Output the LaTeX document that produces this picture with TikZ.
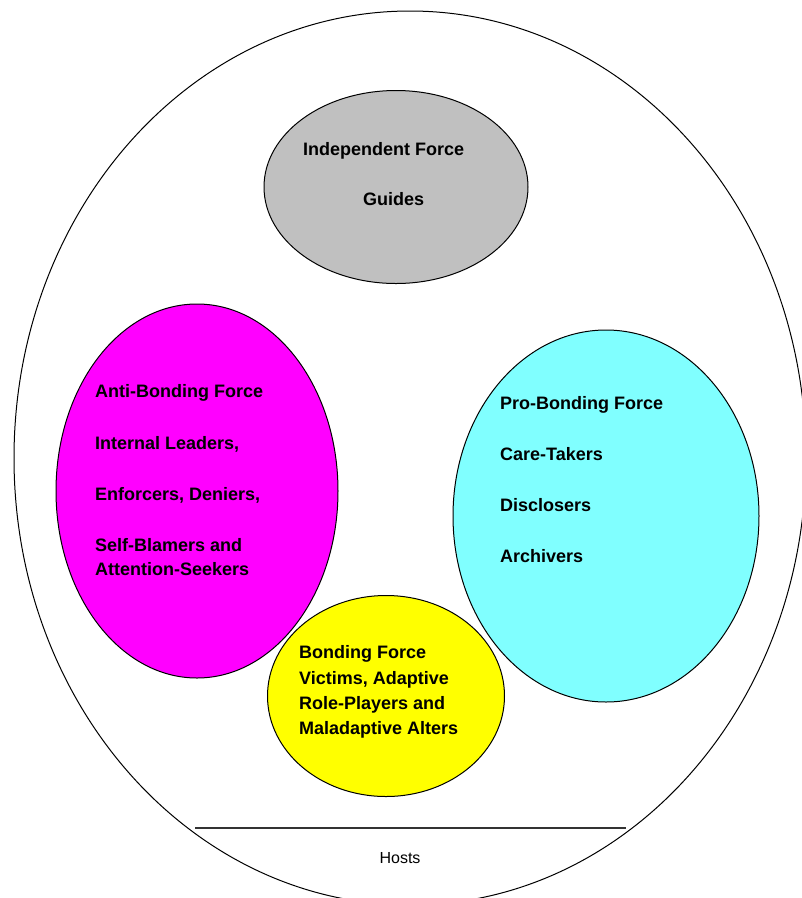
\documentclass[tikz,border=0pt]{standalone}
\usepackage{fontspec}
\setmainfont{Liberation Sans}
\usetikzlibrary{shapes.geometric}

\definecolor{guidegrey}{HTML}{C0C0C0}
\definecolor{antimagenta}{HTML}{FF00FF}
\definecolor{procyan}{HTML}{80FFFF}
\definecolor{bondyellow}{HTML}{FFFF00}

\begin{document}
\begin{tikzpicture}[x=1pt, y=-1pt,
        force/.style={ellipse,draw,black,line width=1pt,inner sep=0pt},
        label/.style={anchor=base west,inner sep=0pt,text=black,
      font=\fontsize{18}{22}\selectfont\bfseries},
        divider/.style={line width=1.4pt,black!80}]

        \useasboundingbox (0,0) rectangle (802,898);
        \clip (0,0) rectangle (802,898);

        % system of alters
        \node [force, minimum width=792pt, minimum height=894pt] (system) at (410, 458) {};

        \node [force, fill=guidegrey, minimum width=264pt, minimum height=193pt] (independent) at (396, 187) {};
        \node [force, fill=antimagenta, minimum width=282pt, minimum height=374pt] (antibonding) at (197, 491) {};
        \node [force, fill=procyan, minimum width=306pt, minimum height=372pt] (probonding) at (606, 516) {};
        \node [force, fill=bondyellow, minimum width=237pt, minimum height=201pt] (bonding) at (386, 696) {};

        % texts
        \node [label] (indep1) at (303, 155) {Independent Force};
        \node [label] (indep2) at (363, 205) {Guides};

        \node [label] (anti1) at (95, 397) {Anti-Bonding Force};
        \node [label] (anti2) at (95, 449) {Internal Leaders,};
        \node [label] (anti3) at (95, 500) {Enforcers, Deniers,};
        \node [label] (anti4) at (95, 551) {Self-Blamers and};
        \node [label] (anti5) at (95, 575) {Attention-Seekers};

        \node [label] (pro1) at (500, 409) {Pro-Bonding Force};
        \node [label] (pro2) at (500, 460) {Care-Takers};
        \node [label] (pro3) at (500, 511) {Disclosers};
        \node [label] (pro4) at (500, 562) {Archivers};

        \node [label] (bond1) at (299, 658) {Bonding Force};
        \node [label] (bond2) at (299, 684) {Victims, Adaptive};
        \node [label] (bond3) at (299, 709) {Role-Players and};
        \node [label] (bond4) at (299, 734) {Maladaptive Alters};

        % hosts
        \coordinate (hostsL) at (195, 828);
        \coordinate (hostsR) at (626, 828);
        \draw [divider] (hostsL) -- (hostsR);
        \node [anchor=base,inner sep=0pt,font=\fontsize{16}{19}\selectfont] (hosts) at (400, 863) {Hosts};
\end{tikzpicture}
\end{document}
